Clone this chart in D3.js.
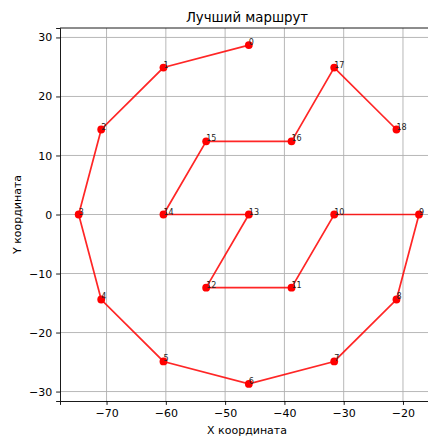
<!DOCTYPE html>
<html>
<head>
<meta charset="utf-8">
<script src="https://cdn.jsdelivr.net/npm/d3@7"></script>
<style>
  body { margin: 0; background: #fff; }
  text { font-family: "DejaVu Sans", sans-serif; }
</style>
</head>
<body>
<div id="chart"></div>
<script>
// route order and city coordinates
const cityIds = [0, 1, 2, 3, 4, 5, 6, 7, 8, 9, 10, 11, 12, 13, 14, 15, 16, 17, 18];
const xValues = [-46, -60.4, -70.9, -74.7, -70.9, -60.4, -46, -31.6, -21.1, -17.3,
                 -31.6, -38.8, -53.2, -46, -60.4, -53.2, -38.8, -31.6, -21.1];
const yValues = [28.7, 24.9, 14.4, 0, -14.4, -24.9, -28.7, -24.9, -14.4, 0,
                 0, -12.4, -12.4, 0, 0, 12.4, 12.4, 24.9, 14.4];
const xTicks = [-70, -60, -50, -40, -30, -20];
const yTicks = [-30, -20, -10, 0, 10, 20, 30];

const width = 428, height = 439;
const margin = { top: 28, right: -7, bottom: 38, left: 60 };
const innerW = width - margin.left - margin.right;
const innerH = height - margin.top - margin.bottom;

const points = cityIds.map((id, i) => ({ id: id, x: xValues[i], y: yValues[i] }));

const svg = d3.select("#chart").append("svg")
  .attr("width", width)
  .attr("height", height);

const g = svg.append("g")
  .attr("transform", `translate(${margin.left},${margin.top})`);

const xScale = d3.scaleLinear().domain([-77.85, -14.6]).range([0, innerW]);
const yScale = d3.scaleLinear().domain([-31.6, 31.6]).range([innerH, 0]);

// grid
g.selectAll(".xgrid").data(xTicks).enter().append("line")
  .attr("x1", (d) => xScale(d)).attr("x2", (d) => xScale(d))
  .attr("y1", 0).attr("y2", innerH)
  .attr("stroke", "#b0b0b0").attr("stroke-width", 0.9);
g.selectAll(".ygrid").data(yTicks).enter().append("line")
  .attr("y1", (d) => yScale(d)).attr("y2", (d) => yScale(d))
  .attr("x1", 0).attr("x2", innerW)
  .attr("stroke", "#b0b0b0").attr("stroke-width", 0.9);

// axes
const fmt = (d) => d < 0 ? "\u2212" + Math.abs(d) : d;
const xAxis = g.append("g")
  .attr("transform", `translate(0,${innerH})`)
  .call(d3.axisBottom(xScale).tickValues(xTicks).tickSize(3.9).tickPadding(3.9).tickFormat(fmt));
const yAxis = g.append("g")
  .call(d3.axisLeft(yScale).tickValues(yTicks).tickSize(3.9).tickPadding(3.9).tickFormat(fmt));

[xAxis, yAxis].forEach((ax) => {
  ax.select(".domain").attr("stroke", "#000").attr("stroke-width", 0.9);
  ax.selectAll(".tick line").attr("stroke", "#000").attr("stroke-width", 0.9);
  ax.selectAll(".tick text").attr("font-size", 11).attr("fill", "#000")
    .style("font-family", "DejaVu Sans, sans-serif");
});

// top spine
g.append("line").attr("x1", 0).attr("x2", innerW).attr("y1", 0).attr("y2", 0)
  .attr("stroke", "#000").attr("stroke-width", 0.9);

// route line
const line = d3.line().x((d) => xScale(d.x)).y((d) => yScale(d.y));
g.append("path")
  .datum(points)
  .attr("d", line)
  .attr("fill", "none")
  .attr("stroke", "#ff0000")
  .attr("stroke-opacity", 0.85)
  .attr("stroke-width", 1.7);

// markers
g.selectAll(".city").data(points).enter().append("circle")
  .attr("class", "city")
  .attr("cx", (d) => xScale(d.x))
  .attr("cy", (d) => yScale(d.y))
  .attr("r", 3.9)
  .attr("fill", "#ff0000");

// labels
g.selectAll(".label").data(points).enter().append("text")
  .attr("x", (d) => xScale(d.x))
  .attr("y", (d) => yScale(d.y))
  .attr("font-size", 8)
  .attr("fill", "#222")
  .text((d) => d.id);

// title and axis labels
svg.append("text")
  .attr("x", 247).attr("y", 22)
  .attr("text-anchor", "middle")
  .attr("font-size", 13.3)
  .text("Лучший маршрут");

svg.append("text")
  .attr("x", 247).attr("y", 434)
  .attr("text-anchor", "middle")
  .attr("font-size", 11)
  .text("X координата");

svg.append("text")
  .attr("transform", `translate(21,${margin.top + innerH / 2}) rotate(-90)`)
  .attr("text-anchor", "middle")
  .attr("font-size", 11)
  .text("Y координата");
</script>
</body>
</html>
